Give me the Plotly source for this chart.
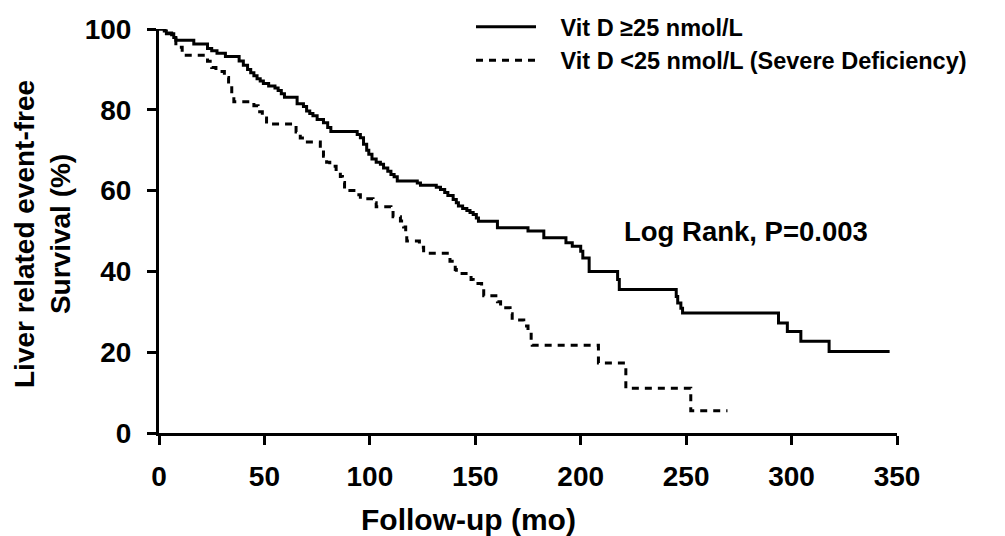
import plotly.graph_objects as go

# Kaplan-Meier step data
solid_t = [0, 2.5, 3.5, 7, 8, 16.5, 23, 25, 27.5, 31.5, 38, 40, 42, 43.5, 45, 46.5, 48, 49.5, 52, 55,
           56.5, 58, 59.5, 65.5, 68.5, 70, 71.5, 73, 75, 78, 80, 81.5, 94, 95.5, 97, 98.5, 99.5, 101, 103, 105,
           106.5, 108.5, 110, 111.5, 113, 122.5, 124, 131.5, 133.5, 135.5, 137, 139.5, 141, 142, 144,
           146, 147.5, 149, 150.5, 151.5, 160.5, 175, 182.5, 193, 196, 200, 201, 204, 217.5, 218.3,
           245.3, 246, 247.5, 248.3, 293.8, 298, 304.4, 317.8, 346.5]
solid_s = [100, 99.5, 98.8, 97.9, 97.2, 96.3, 95.2, 94.6, 94.0, 93.2, 92.1, 91, 90, 89.2, 88.4, 87.7, 87.1, 86.5, 85.9, 85.4,
           84.8, 84, 83.1, 81.5, 80.8, 79.7, 79.1, 78.5, 77.6, 76.8, 75.6, 74.6, 73.9, 73.1, 71.5, 70, 69, 67.8, 67, 66.5,
           65.6, 64.8, 64, 63.4, 62.4, 61.9, 61.3, 60.8, 60.3, 59.5, 58.8, 57.8, 57, 56.2, 55.6,
           55.1, 54.6, 54.1, 53.2, 52.4, 50.8, 50, 48.3, 47.1, 46.2, 45, 43.3, 40, 38, 35.5,
           33.8, 32.2, 30.9, 29.7, 27.2, 25.1, 22.7, 20.2, 20.2]

dash_t = [0, 3, 6, 8, 11, 23, 25, 27, 31, 33, 34.5, 35.5, 45, 47, 49, 51, 65, 67, 69, 76.5,
          78, 79.5, 81, 84, 86, 87, 88, 94, 95.5, 101.5, 103, 110, 111, 114.5, 116,
          117, 117.5, 123.5, 125.5, 138, 140.5, 141, 148, 149, 153, 154, 160.5, 162, 166.5, 167.5,
          173, 175, 176.5, 177, 208.4, 221.4, 252.2, 269.6]
dash_s = [100, 99, 97.5, 95.5, 93.5, 92, 90.5, 89.5, 88, 86, 84, 82, 81, 79.5, 78, 76.5, 74.5, 73, 72, 70,
          68.5, 67, 66, 64.8, 63.5, 62, 60, 59, 58, 57, 56, 55, 53.5, 52.5, 51,
          49.5, 47.5, 46, 44.5, 42.5, 40.5, 39.5, 38, 37, 36, 34, 32.5, 31, 29.5, 28,
          26.5, 25, 23, 21.7, 17.3, 11.1, 5.5, 5.5]

series_names = ["Vit D \u226525 nmol/L", "Vit D <25 nmol/L (Severe Deficiency)"]
x_ticks = [0, 50, 100, 150, 200, 250, 300, 350]
y_ticks = [0, 20, 40, 60, 80, 100]

FONT = "Liberation Sans, Arial, sans-serif"
GAP = "\u00a0\u00a0\u00a0"

fig = go.Figure()
fig.add_trace(go.Scatter(x=solid_t, y=solid_s, mode="lines", line_shape="hv",
                         line=dict(color="black", width=3), name=GAP + series_names[0]))
fig.add_trace(go.Scatter(x=dash_t, y=dash_s, mode="lines", line_shape="hv",
                         line=dict(color="black", width=3, dash="7px,6px"), name=GAP + series_names[1]))

axis_common = dict(showline=True, linecolor="black", linewidth=3, ticks="outside", ticklen=9,
                   tickwidth=3, tickcolor="black", showgrid=False, zeroline=False,
                   tickfont=dict(family=FONT, size=28, color="black", weight="bold"))

fig.update_layout(
    width=1005, height=536,
    margin=dict(l=159, r=108, t=29, b=103, autoexpand=False),
    paper_bgcolor="white", plot_bgcolor="white",
    xaxis=dict(range=[0, 350], tickvals=x_ticks, ticklabelstandoff=7, **axis_common),
    yaxis=dict(range=[0, 100], tickvals=y_ticks, ticklabelstandoff=10, **axis_common),
    showlegend=True,
    legend=dict(x=(471 - 159) / 738, y=(433 - 5) / 404,
                xanchor="left", yanchor="top", itemwidth=60, tracegroupgap=0,
                bgcolor="rgba(0,0,0,0)",
                font=dict(family=FONT, size=23.5, color="black", weight="bold")),
    annotations=[
        dict(text="Follow-up (mo)", xref="paper", yref="paper", x=(468 - 159) / 738, y=(433 - 519) / 404,
             xanchor="center", yanchor="middle", showarrow=False,
             font=dict(family=FONT, size=30, color="black", weight="bold")),
        dict(text="Liver related event-free<br>Survival (%)", xref="paper", yref="paper",
             x=(42 - 159) / 738, y=(433 - 234) / 404, textangle=-90,
             xanchor="center", yanchor="middle", showarrow=False,
             font=dict(family=FONT, size=28, color="black", weight="bold")),
        dict(text="Log Rank, P=0.003", xref="paper", yref="paper", x=(746 - 159) / 738, y=(433 - 231) / 404,
             xanchor="center", yanchor="middle", showarrow=False,
             font=dict(family=FONT, size=27.5, color="black", weight="bold")),
    ],
)

fig.write_html("out.html")
